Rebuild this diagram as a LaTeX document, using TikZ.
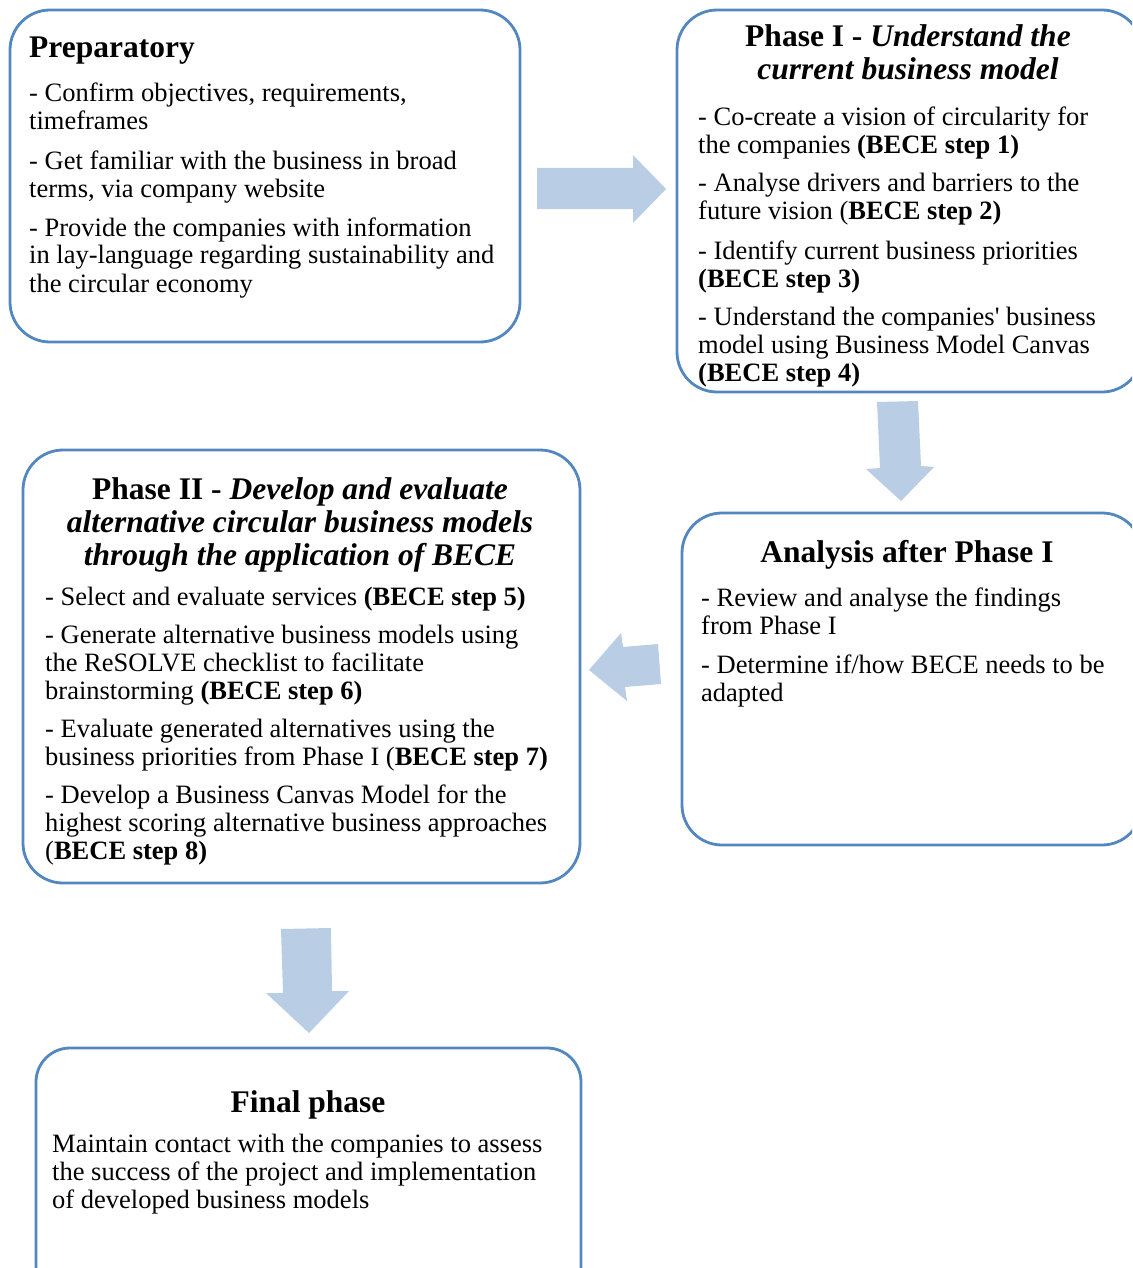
\documentclass[tikz,border=0pt]{standalone}
\usepackage{fontspec}
\setmainfont{Liberation Serif}
\definecolor{frameblue}{RGB}{84,134,192}
\definecolor{arrowfill}{RGB}{185,205,229}

% multi-line text blocks whose reference point is the first baseline
\newcommand{\leftlines}[1]{\begin{tabular}[t]{@{}l@{}}#1\end{tabular}}
\newcommand{\centerlines}[1]{\begin{tabular}[t]{@{}c@{}}#1\end{tabular}}

\tikzset{
  panel/.style={draw=frameblue, line width=2.8pt, rounded corners=40pt, fill=white, inner sep=0pt},
  blockarrow/.style={fill=arrowfill, draw=none},
  heading/.style={font=\fontsize{31.5}{33}\selectfont\bfseries, anchor=base, inner sep=0pt},
  headingleft/.style={heading, anchor=base west},
  bullet/.style={font=\fontsize{26.5}{28}\selectfont, anchor=base west, inner sep=0pt},
}

\begin{document}
\begin{tikzpicture}[x=1pt, y=-1pt]
  \useasboundingbox (0,0) rectangle (1132,1268);
  \fill[white] (0,0) rectangle (1132,1268);
  \clip (0,0) rectangle (1132,1268);

  % ---------- panels ----------
  \node[panel, minimum width=510pt, minimum height=332pt] (prep) at (265,176) {};
  \node[panel, minimum width=465pt, minimum height=382pt] (phaseone) at (909.5,201) {};
  \node[panel, minimum width=460pt, minimum height=332pt] (analysis) at (912,679) {};
  \node[panel, minimum width=557pt, minimum height=433pt] (phasetwo) at (301.5,666.5) {};
  \node[panel, rounded corners=34pt, minimum width=545pt, minimum height=252pt] (final) at (308.5,1174) {};

  % ---------- block arrows between panels ----------
  \fill[blockarrow] (537,168) -- (633,168) -- (633,155) -- (666,189) -- (633,223)
                    -- (633,209) -- (537,209) -- cycle;
  \fill[blockarrow] (877,402) -- (918,401) -- (921,466) -- (934,467) -- (901,501)
                    -- (866,469) -- (880,468) -- cycle;
  \fill[blockarrow] (589,670) -- (621,633) -- (623,647) -- (658,644) -- (661,684)
                    -- (625,687) -- (627,701) -- cycle;
  \fill[blockarrow] (281,929) -- (331,928) -- (332,991) -- (349,991) -- (309,1033)
                    -- (266,993) -- (283,993) -- cycle;

  \begin{scope}[shift={(0,2)}]
  % ---------- Preparatory ----------
  \node[headingleft] (prept) at (29,56) {Preparatory};
  \node[bullet] (prepa) at (29,100) {\leftlines{- Confirm objectives, requirements,\\ timeframes}};
  \node[bullet] (prepb) at (29,168) {\leftlines{- Get familiar with the business in broad\\ terms, via company website}};
  \node[bullet] (prepc) at (29,234) {\leftlines{- Provide the companies with information\\ in lay-language regarding sustainability and\\ the circular economy}};

  % ---------- Phase I ----------
  \node[heading] (onet) at (908,45) {\centerlines{Phase I - \textit{Understand the}\\ \textit{current business model}}};
  \node[bullet] (onea) at (698,124) {\leftlines{- Co-create a vision of circularity for\\ the companies \textbf{(BECE step 1)}}};
  \node[bullet] (oneb) at (698,190) {\leftlines{- Analyse drivers and barriers to the\\ future vision (\textbf{BECE step 2)}}};
  \node[bullet] (onec) at (698,257) {\leftlines{- Identify current business priorities\\ \textbf{(BECE step 3)}}};
  \node[bullet] (oned) at (698,323) {\leftlines{- Understand the companies\textquotesingle{} business\\ model using Business Model Canvas\\ \textbf{(BECE step 4)}}};

  % ---------- Analysis after Phase I ----------
  \node[heading] (anat) at (907,560) {Analysis after Phase I};
  \node[bullet] (anaa) at (701,604) {\leftlines{- Review and analyse the findings\\ from Phase I}};
  \node[bullet] (anab) at (701,671) {\leftlines{- Determine if/how BECE needs to be\\ adapted}};

  % ---------- Phase II ----------
  \node[heading] (twot) at (300,497) {\centerlines{Phase II - \textit{Develop and evaluate}\\ \textit{alternative circular business models}\\ \textit{through the application of BECE}}};
  \node[bullet] (twoa) at (45,603) {- Select and evaluate services \textbf{(BECE step 5)}};
  \node[bullet] (twob) at (45,641) {\leftlines{- Generate alternative business models using\\ the ReSOLVE checklist to facilitate\\ brainstorming \textbf{(BECE step 6)}}};
  \node[bullet] (twoc) at (45,735) {\leftlines{- Evaluate generated alternatives using the\\ business priorities from Phase I (\textbf{BECE step 7)}}};
  \node[bullet] (twod) at (45,801) {\leftlines{- Develop a Business Canvas Model for the\\ highest scoring alternative business approaches\\ (\textbf{BECE step 8)}}};

  % ---------- Final phase ----------
  \node[heading] (fint) at (308,1110) {Final phase};
  \node[bullet] (fina) at (52,1150) {\leftlines{Maintain contact with the companies to assess\\ the success of the project and implementation\\ of developed business models}};
  \end{scope}
\end{tikzpicture}
\end{document}
